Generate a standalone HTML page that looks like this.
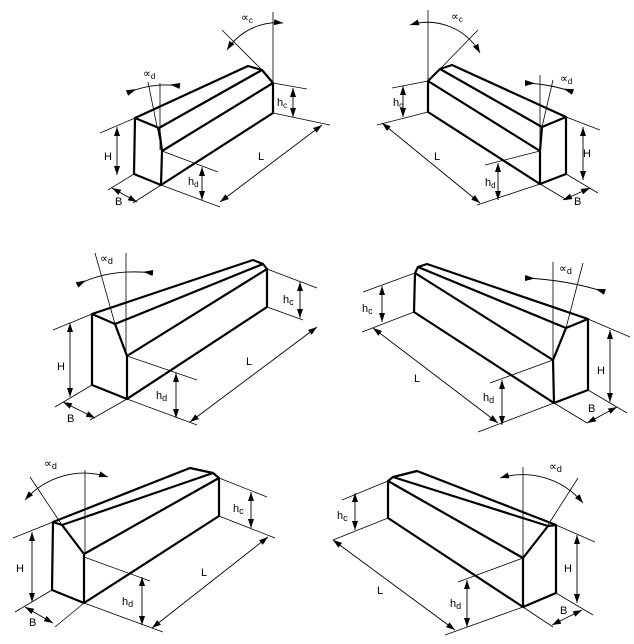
<!DOCTYPE html>
<html><head><meta charset="utf-8"><style>
html,body{margin:0;padding:0;background:#fff}
svg{display:block}
text{font-family:"Liberation Sans",sans-serif;font-size:11px;fill:#000}
.k{stroke:#000;stroke-width:2.2;fill:none;stroke-linejoin:round;stroke-linecap:round}
.t{stroke:#000;stroke-width:0.8;fill:none}
.d{stroke:#000;stroke-width:0.9;fill:none;marker-start:url(#a);marker-end:url(#a)}
.i{stroke:#000;stroke-width:0.9;fill:none;marker-start:url(#f);marker-end:url(#r)}
</style></head><body>
<svg width="634" height="644" viewBox="0 0 634 644" xmlns="http://www.w3.org/2000/svg">
<defs>
<marker id="a" markerUnits="userSpaceOnUse" markerWidth="9" markerHeight="6" refX="9" refY="3" orient="auto-start-reverse"><path d="M0,0L9,3L0,6z" fill="#000"/></marker>
<marker id="f" markerUnits="userSpaceOnUse" markerWidth="10" markerHeight="6" refX="0" refY="3" orient="auto"><path d="M0,0L10,3L0,6z" fill="#000"/></marker>
<marker id="r" markerUnits="userSpaceOnUse" markerWidth="10" markerHeight="6" refX="10" refY="3" orient="auto"><path d="M10,0L0,3L10,6z" fill="#000"/></marker>
</defs>

<!-- Panel 1 -->
<path class="k" d="M135,118L248,66L262,70L273,83L273,113L161,185L134,174L135,118L159,128L162,151L161,185M159,128L262,70M162,151L273,83"/>
<path class="t" d="M273,12V83M222,30L262,70M148,82L162,151M160,83V150M273,83L307,89M273,113L330,125M161,185L220,207M162,151L218,172M135,118L100,133M134,174L108,190M161,185L133,203"/>
<path class="d" d="M227,50A60,60 0 0 1 283,23"/>
<path class="i" d="M127,93Q153,82 180,86"/>
<path class="d" d="M293,88V117"/>
<path class="d" d="M220,202L322,125"/>
<path class="d" d="M202,167V200"/>
<path class="d" d="M117,127V175"/>
<path class="d" d="M112,188L137,202"/>
<text x="241" y="21">∝<tspan font-size="8" dy="2">c</tspan></text>
<text x="143" y="77">∝<tspan font-size="8" dy="2">d</tspan></text>
<text x="277" y="106">h<tspan font-size="8" dy="2">c</tspan></text>
<text x="258" y="160">L</text>
<text x="188" y="185">h<tspan font-size="8" dy="2">d</tspan></text>
<text x="104" y="160">H</text>
<text x="115" y="205" font-size="9">B</text>

<!-- Panel 2 -->
<path class="k" d="M566,117L452,65L440,69L428,81L428,112L540,184L566,174L566,117L542,127L540,151L540,184M542,127L440,69M540,151L428,81"/>
<path class="t" d="M428,10V81M478,30L440,69M553,80L542,127M540,75V151M428,81L392,88M428,112L377,125M540,184L477,205M540,151L485,165M566,117L600,130M566,174L598,193M540,184L567,200"/>
<path class="d" d="M410,25A60,60 0 0 1 480,53"/>
<path class="i" d="M525,83Q550,84 573,92"/>
<path class="d" d="M403,86V117"/>
<path class="d" d="M382,123L480,203"/>
<path class="d" d="M498,163V200"/>
<path class="d" d="M583,127V180"/>
<path class="d" d="M563,200L590,188"/>
<text x="451" y="20">∝<tspan font-size="8" dy="2">c</tspan></text>
<text x="560" y="82">∝<tspan font-size="8" dy="2">d</tspan></text>
<text x="393" y="106">h<tspan font-size="8" dy="2">c</tspan></text>
<text x="434" y="160">L</text>
<text x="485" y="186">h<tspan font-size="8" dy="2">d</tspan></text>
<text x="583" y="157">H</text>
<text x="574" y="205" font-size="9">B</text>

<!-- Panel 3 -->
<path class="k" d="M92,314L253,260L263,264L267,269L267,307L127,399L92,385L92,314L115,324L127,356L127,399M115,324L263,264M127,356L267,269"/>
<path class="t" d="M95,253L115,324M126,253V353M267,269L317,288M267,307L303,320M127,399L197,425M127,356L197,380M92,314L53,330M92,385L55,407M127,399L90,420"/>
<path class="i" d="M77,285Q110,268 153,273"/>
<path class="d" d="M300,282V318"/>
<path class="d" d="M190,422L317,327"/>
<path class="d" d="M176,373V418"/>
<path class="d" d="M70,323V397"/>
<path class="d" d="M63,402L95,418"/>
<text x="100" y="262" font-size="13">∝<tspan font-size="9" dy="2">d</tspan></text>
<text x="283" y="303" font-size="12">h<tspan font-size="9" dy="2">c</tspan></text>
<text x="246" y="365">L</text>
<text x="156" y="399" font-size="12">h<tspan font-size="9" dy="2">d</tspan></text>
<text x="57" y="370">H</text>
<text x="67" y="422">B</text>

<!-- Panel 4 -->
<path class="k" d="M588,319L427,264L418,267L415,273L414,312L554,403L588,390L588,319L566,328L553,360L554,403M566,328L418,267M553,360L415,273"/>
<path class="t" d="M553,262V360M583,263L566,328M415,273L363,292M414,312L362,332M554,403L478,432M553,360L490,383M588,319L630,337M588,390L627,413M554,403L587,423"/>
<path class="i" d="M525,278Q568,280 605,292"/>
<path class="d" d="M382,286V322"/>
<path class="d" d="M373,328L498,423"/>
<path class="d" d="M502,380V425"/>
<path class="d" d="M610,330V402"/>
<path class="d" d="M587,423L617,407"/>
<text x="559" y="272" font-size="13">∝<tspan font-size="9" dy="2">d</tspan></text>
<text x="362" y="312" font-size="12">h<tspan font-size="9" dy="2">c</tspan></text>
<text x="414" y="382">L</text>
<text x="483" y="401" font-size="12">h<tspan font-size="9" dy="2">d</tspan></text>
<text x="597" y="374">H</text>
<text x="588" y="412">B</text>

<!-- Panel 5 -->
<path class="k" d="M53,522L190,468L213,473L219,478L219,516L84,603L52,590L53,522L62,525L84,554L84,603M62,525L213,473M84,554L219,478"/>
<path class="t" d="M85,470V554M30,477L62,525M219,478L267,497M219,516L275,538M84,603L163,632M84,557L150,581M53,522L13,538M52,590L15,612M84,603L55,627"/>
<path class="d" d="M25,500A78,78 0 0 1 108,477"/>
<path class="d" d="M251,492V528"/>
<path class="d" d="M152,628L268,537"/>
<path class="d" d="M142,577V625"/>
<path class="d" d="M32,532V602"/>
<path class="d" d="M25,607L53,623"/>
<text x="44" y="467" font-size="13">∝<tspan font-size="9" dy="2">d</tspan></text>
<text x="233" y="512" font-size="12">h<tspan font-size="9" dy="2">c</tspan></text>
<text x="201" y="576">L</text>
<text x="122" y="605" font-size="12">h<tspan font-size="9" dy="2">d</tspan></text>
<text x="16" y="572">H</text>
<text x="29" y="626">B</text>

<!-- Panel 6 -->
<path class="k" d="M556,525L417,471L393,477L388,481L388,518L523,607L556,593L556,525L548,526L523,558L523,607M548,526L393,477M523,558L388,481"/>
<path class="t" d="M523,467V558M578,478L548,525M388,481L342,500M388,518L333,540M523,607L445,635M523,558L458,582M556,525L595,542M556,593L593,615M523,607L553,627"/>
<path class="d" d="M500,478A78,78 0 0 1 583,503"/>
<path class="d" d="M355,493V530"/>
<path class="d" d="M333,540L455,630"/>
<path class="d" d="M467,580V627"/>
<path class="d" d="M577,535V603"/>
<path class="d" d="M552,625L582,610"/>
<text x="549" y="470" font-size="13">∝<tspan font-size="9" dy="2">d</tspan></text>
<text x="337" y="519" font-size="12">h<tspan font-size="9" dy="2">c</tspan></text>
<text x="377" y="594">L</text>
<text x="450" y="607" font-size="12">h<tspan font-size="9" dy="2">d</tspan></text>
<text x="564" y="572">H</text>
<text x="560" y="614">B</text>
</svg>
</body></html>
